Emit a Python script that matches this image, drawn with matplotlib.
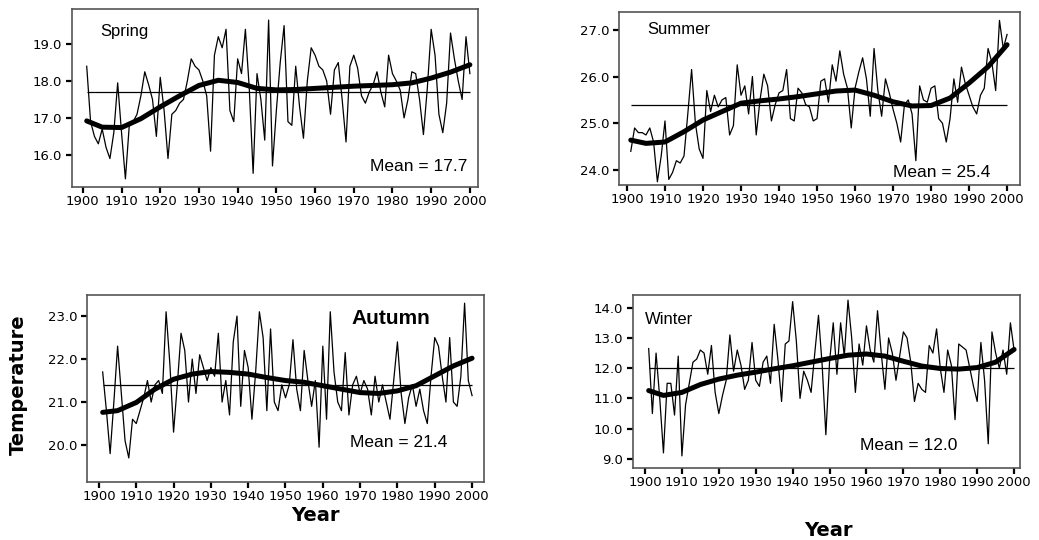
import numpy as np
import matplotlib.pyplot as plt

years = np.arange(1901, 2001)
smooth_years = [1901, 1905, 1910, 1915, 1920, 1925, 1930, 1935, 1940, 1945, 1950,
                1955, 1960, 1965, 1970, 1975, 1980, 1985, 1990, 1995, 2000]
xticks = list(range(1900, 2001, 10))

# yearly values, 1901..2000
spring = [18.4, 16.9, 16.5, 16.3, 16.7, 16.2, 15.9, 16.6, 17.95, 16.6,
          15.35, 16.8, 16.9, 17.1, 17.6, 18.25, 17.9, 17.5, 16.5, 18.1,
          17.2, 15.9, 17.1, 17.2, 17.4, 17.5, 18.0, 18.6, 18.4, 18.3,
          18.0, 17.6, 16.1, 18.7, 19.2, 18.9, 19.4, 17.2, 16.9, 18.6,
          18.2, 19.4, 17.8, 15.5, 18.2, 17.5, 16.4, 19.65, 15.7, 17.2,
          18.5, 19.5, 16.9, 16.8, 18.4, 17.3, 16.45, 18.0, 18.9, 18.7,
          18.4, 18.3, 18.0, 17.1, 18.3, 18.5, 17.5, 16.35, 18.4, 18.7,
          18.35, 17.6, 17.4, 17.7, 17.9, 18.25, 17.7, 17.3, 18.7, 18.2,
          18.0, 17.75, 17.0, 17.5, 18.25, 18.2, 17.5, 16.55, 17.8, 19.4,
          18.7, 17.1, 16.6, 17.4, 19.3, 18.6, 18.0, 17.5, 19.2, 18.2]
summer = [24.4, 24.9, 24.8, 24.8, 24.75, 24.9, 24.6, 23.75, 24.3, 25.05,
          23.8, 23.95, 24.2, 24.15, 24.3, 25.2, 26.15, 25.0, 24.45, 24.25,
          25.7, 25.25, 25.6, 25.35, 25.5, 25.55, 24.75, 24.95, 26.25, 25.6,
          25.8, 25.2, 26.0, 24.75, 25.5, 26.05, 25.8, 25.05, 25.4, 25.65,
          25.7, 26.15, 25.1, 25.05, 25.75, 25.65, 25.4, 25.35, 25.05, 25.1,
          25.9, 25.95, 25.45, 26.25, 25.9, 26.55, 26.05, 25.75, 24.9, 25.75,
          26.1, 26.4, 25.95, 25.15, 26.6, 25.7, 25.15, 25.95, 25.65, 25.3,
          25.0, 24.6, 25.4, 25.5, 25.2, 24.2, 25.8, 25.5, 25.45, 25.75,
          25.8, 25.1, 25.0, 24.6, 25.1, 25.95, 25.45, 26.2, 25.85, 25.6,
          25.35, 25.2, 25.6, 25.75, 26.6, 26.3, 25.7, 27.2, 26.6, 26.9]
autumn = [21.7, 20.8, 19.8, 21.0, 22.3, 21.2, 20.1, 19.7, 20.6, 20.5,
          20.8, 21.1, 21.5, 21.0, 21.4, 21.5, 21.2, 23.1, 21.9, 20.3,
          21.4, 22.6, 22.2, 21.0, 22.0, 21.2, 22.1, 21.8, 21.5, 21.8,
          21.6, 22.6, 21.0, 21.5, 20.7, 22.4, 23.0, 20.9, 22.2, 21.8,
          20.6, 21.7, 23.1, 22.5, 20.8, 22.7, 21.0, 20.8, 21.4, 21.1,
          21.4, 22.45, 21.3, 20.8, 22.2, 21.5, 20.9, 21.5, 19.95, 22.3,
          20.6, 23.1, 21.7, 21.0, 20.8, 22.15, 20.7, 21.4, 21.6, 21.2,
          21.5, 21.3, 20.7, 21.6, 21.0, 21.4, 21.0, 20.6, 21.5, 22.4,
          21.2, 20.5, 21.1, 21.4, 20.9, 21.3, 20.8, 20.5, 21.6, 22.5,
          22.3, 21.6, 21.0, 22.5, 21.0, 20.9, 21.6, 23.3, 21.5, 21.15]
winter = [12.65, 10.5, 12.5, 11.0, 9.2, 11.5, 11.5, 10.45, 12.4, 9.1,
          10.8, 11.5, 12.2, 12.3, 12.6, 12.5, 11.8, 12.75, 11.2, 10.5,
          11.1, 11.6, 13.1, 11.9, 12.6, 12.1, 11.3, 11.6, 12.85, 11.6,
          11.4, 12.2, 12.4, 11.5, 13.45, 12.3, 10.9, 12.8, 12.9, 14.2,
          12.9, 11.0, 11.9, 11.6, 11.2, 12.5, 13.75, 12.1, 9.8, 12.2,
          13.5, 11.8, 13.5, 12.4, 14.25, 13.0, 11.2, 12.8, 12.1, 13.4,
          12.6, 12.2, 13.9, 12.5, 11.3, 13.0, 12.5, 11.6, 12.4, 13.2,
          13.0, 12.2, 10.9, 11.5, 11.3, 11.2, 12.75, 12.5, 13.3, 12.0,
          11.2, 12.6, 12.1, 10.3, 12.8, 12.7, 12.6, 12.0, 11.4, 10.9,
          12.85, 11.6, 9.5, 13.2, 12.5, 12.0, 12.6, 11.8, 13.5, 12.6]

spring_smooth = [16.92, 16.75, 16.74, 16.98, 17.3, 17.6, 17.88, 18.02, 17.96, 17.8, 17.76,
                 17.77, 17.8, 17.83, 17.86, 17.88, 17.9, 17.95, 18.08, 18.24, 18.44]
summer_smooth = [24.64, 24.57, 24.6, 24.82, 25.07, 25.25, 25.43, 25.48, 25.52, 25.57, 25.63,
                 25.69, 25.71, 25.6, 25.46, 25.37, 25.38, 25.54, 25.86, 26.21, 26.68]
autumn_smooth = [20.76, 20.8, 20.99, 21.3, 21.53, 21.65, 21.71, 21.69, 21.65, 21.57, 21.5,
                 21.46, 21.38, 21.3, 21.22, 21.2, 21.26, 21.38, 21.61, 21.84, 22.02]
winter_smooth = [11.26, 11.1, 11.2, 11.46, 11.64, 11.77, 11.87, 11.98, 12.08, 12.2, 12.32,
                 12.43, 12.47, 12.4, 12.23, 12.07, 11.99, 11.97, 12.02, 12.2, 12.62]

spring_mean = 17.7
summer_mean = 25.4
autumn_mean = 21.4
winter_mean = 12.0

spring_yticks = [16.0, 17.0, 18.0, 19.0]
summer_yticks = [24.0, 25.0, 26.0, 27.0]
autumn_yticks = [20.0, 21.0, 22.0, 23.0]
winter_yticks = [9.0, 10.0, 11.0, 12.0, 13.0, 14.0]

W, H = 1039, 540


def px_axes(fig, left, top, right, bottom):
    return fig.add_axes([left / W, 1 - bottom / H, (right - left) / W, (bottom - top) / H])


def panel(ax, raw, smooth, mean, yticks, xlim, ylim):
    ax.plot(years, raw, color="black", lw=0.9)
    ax.hlines(mean, 1901, 2000, color="black", lw=0.9)
    ax.plot(smooth_years, smooth, color="black", lw=3.6, solid_capstyle="round")
    ax.set_xlim(*xlim)
    ax.set_ylim(*ylim)
    ax.set_xticks(xticks)
    ax.set_yticks(yticks)
    ax.set_yticklabels([f"{t:.1f}" for t in yticks])
    ax.tick_params(direction="out", length=4, width=1.6, labelsize=9.5, pad=2)
    ax.tick_params(axis="y", pad=3)
    for s in ax.spines.values():
        s.set_color("#555555")
        s.set_linewidth(1.2)


fig = plt.figure(figsize=(W / 100, H / 100), dpi=100)

ax1 = px_axes(fig, 72, 9, 478, 187)
panel(ax1, spring, spring_smooth, spring_mean, spring_yticks, (1897.2, 2002.1), (15.13, 19.95))
ax1.text(0.069, 0.85, "Spring", transform=ax1.transAxes, fontsize=12, family="Liberation Sans")
ax1.text(0.973, 0.092, "Mean = 17.7", transform=ax1.transAxes, ha="right", fontsize=12.5,
         family="Liberation Sans")

ax2 = px_axes(fig, 619, 12, 1020, 185)
panel(ax2, summer, summer_smooth, summer_mean, summer_yticks, (1897.9, 2003.4), (23.68, 27.38))
ax2.text(0.07, 0.873, "Summer", transform=ax2.transAxes, fontsize=12, family="Liberation Sans")
ax2.text(0.925, 0.048, "Mean = 25.4", transform=ax2.transAxes, ha="right", fontsize=12.5,
         family="Liberation Sans")

ax3 = px_axes(fig, 87, 295, 484, 482)
panel(ax3, autumn, autumn_smooth, autumn_mean, autumn_yticks, (1896.8, 2003.2), (19.14, 23.49))
ax3.text(0.667, 0.843, "Autumn", transform=ax3.transAxes, fontsize=15, fontweight="bold",
         family="Liberation Sans")
ax3.text(0.909, 0.189, "Mean = 21.4", transform=ax3.transAxes, ha="right", fontsize=12.5,
         family="Liberation Sans")

ax4 = px_axes(fig, 633, 295, 1020, 468)
panel(ax4, winter, winter_smooth, winter_mean, winter_yticks, (1896.75, 2001.6), (8.7, 14.42))
ax4.text(0.031, 0.83, "Winter", transform=ax4.transAxes, fontsize=12, family="Liberation Sans")
ax4.text(0.837, 0.104, "Mean = 12.0", transform=ax4.transAxes, ha="right", fontsize=12.5,
         family="Liberation Sans")

fig.text(0.018, 0.287, "Temperature", rotation=90, ha="center", va="center",
         fontsize=14, fontweight="bold")
fig.text(0.3032, 0.046, "Year", ha="center", va="center", fontsize=14, fontweight="bold")
fig.text(0.797, 0.0167, "Year", ha="center", va="center", fontsize=14, fontweight="bold")

fig.savefig("out.png", dpi=100)
